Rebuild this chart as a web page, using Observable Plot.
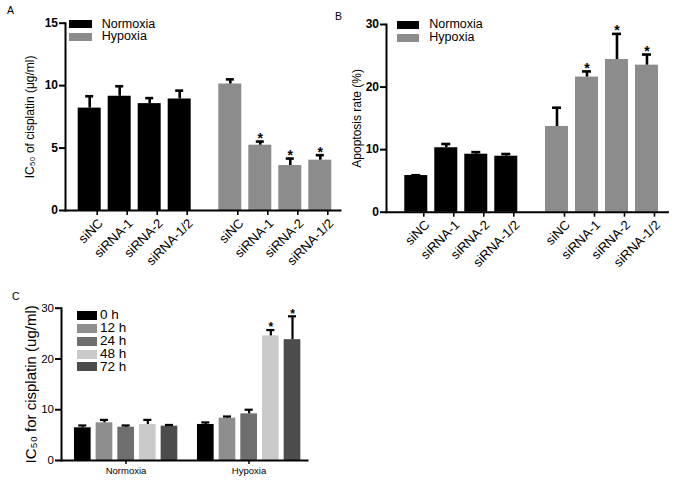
<!DOCTYPE html>
<html><head><meta charset="utf-8">
<script src="https://cdn.jsdelivr.net/npm/d3@7"></script>
<script src="https://cdn.jsdelivr.net/npm/@observablehq/plot@0.6"></script>
<style>
body{margin:0;background:#fff;font-family:"Liberation Sans",Arial,sans-serif;}
#wrap{position:relative;width:677px;height:484px;overflow:hidden;background:#fff;}
.panel{position:absolute;}
.panel svg{overflow:visible;}
.letter{position:absolute;font-size:10.5px;line-height:10.5px;color:#000;}
.legend{position:absolute;color:#000;}
.legend .row{display:flex;align-items:center;white-space:nowrap;overflow:visible;}
.legend .txt{display:inline-block;overflow:visible;}
.legend .sw{display:inline-block;flex:none;}
</style></head><body><div id="wrap"></div>
<script>
// ---------- data ----------
const conditions = ["Normoxia", "Hypoxia"];
const siRNAs = ["siNC", "siRNA-1", "siRNA-2", "siRNA-1/2"];

// Panel A: IC50 of cisplatin (µg/ml)
const ic50Normoxia    = [8.2, 9.15, 8.56, 8.93];
const ic50NormoxiaErr = [0.95, 0.8, 0.44, 0.67];
const ic50Hypoxia     = [10.13, 5.23, 3.6, 4.03];
const ic50HypoxiaErr  = [0.37, 0.29, 0.56, 0.4];
const ic50NormoxiaSig = [false, false, false, false];
const ic50HypoxiaSig  = [false, true, true, true];

// Panel B: apoptosis rate (%)
const apoNormoxia    = [5.86, 10.3, 9.27, 8.95];
const apoNormoxiaErr = [0.05, 0.6, 0.33, 0.35];
const apoHypoxia     = [13.7, 21.6, 24.4, 23.5];
const apoHypoxiaErr  = [3.0, 0.9, 4.1, 1.7];
const apoNormoxiaSig = [false, false, false, false];
const apoHypoxiaSig  = [false, true, true, true];

// Panel C: IC50 for cisplatin over time
const times = ["0 h", "12 h", "24 h", "48 h", "72 h"];
const timeNormoxia    = [6.44, 7.42, 6.56, 7.1, 6.76];
const timeNormoxiaErr = [0.46, 0.58, 0.34, 0.9, 0.24];
const timeHypoxia     = [7.1, 8.34, 9.19, 24.55, 23.8];
const timeHypoxiaErr  = [0.4, 0.33, 0.81, 1.15, 4.6];
const timeNormoxiaSig = [false, false, false, false, false];
const timeHypoxiaSig  = [false, false, false, true, true];

const ticksA = [0, 5, 10, 15];
const ticksB = [0, 10, 20, 30];
const ticksC = [0, 10, 20, 30];

const conditionColors = ["#000000", "#8c8c8c"];
const timeColors = ["#000000", "#8e8e8e", "#6e6e6e", "#cacaca", "#4c4c4c"];

// ---------- helpers ----------
function build(cats, values, errs, sigs) {
  const rows = [];
  conditions.forEach((g, gi) => {
    cats.forEach((c, ci) => {
      rows.push({group: g, cat: c, value: values[gi][ci], top: values[gi][ci] + errs[gi][ci], sig: sigs[gi][ci]});
    });
  });
  return rows;
}
const FONT = '"Liberation Sans", Arial, sans-serif';
const wrap = document.getElementById("wrap");
function place(node, left, top) {
  const d = document.createElement("div");
  d.className = "panel";
  d.style.left = left + "px";
  d.style.top = top + "px";
  d.appendChild(node);
  wrap.appendChild(d);
}
function letter(t, left, top) {
  const d = document.createElement("div");
  d.className = "letter"; d.textContent = t;
  d.style.left = left + "px"; d.style.top = top + "px";
  wrap.appendChild(d);
}
function legend(items, colors, o) {
  const d = document.createElement("div");
  d.className = "legend";
  d.style.left = o.left + "px"; d.style.top = o.top + "px";
  d.style.fontSize = o.fontSize + "px";
  items.forEach((it, i) => {
    const r = document.createElement("div");
    r.className = "row"; r.style.height = o.rowH + "px";
    const s = document.createElement("span");
    s.className = "sw";
    s.style.width = o.swW + "px"; s.style.height = o.swH + "px";
    s.style.background = colors[i]; s.style.marginRight = o.gap + "px";
    const t = document.createElement("span");
    t.className = "txt";
    t.style.height = o.rowH + "px"; t.style.lineHeight = o.rowH + "px";
    t.textContent = it;
    r.appendChild(s); r.appendChild(t);
    d.appendChild(r);
  });
  wrap.appendChild(d);
}

function barPanel(rows, o) {
  const sigRows = rows.filter(d => d.sig);
  return Plot.plot({
    width: o.width, height: o.height,
    marginLeft: o.ml, marginRight: o.mr, marginTop: o.mt, marginBottom: o.mb,
    style: {background: "transparent", overflow: "visible", fontFamily: FONT, color: "#000"},
    fx: {domain: conditions, paddingInner: o.fxPi, paddingOuter: o.fxPo, align: 0, round: false, axis: null, label: null},
    x: {domain: o.xDomain, paddingInner: o.xPi, paddingOuter: o.xPo, align: o.xAlign, round: false, axis: null, label: null},
    y: {domain: o.yDomain, axis: null, label: null},
    color: {domain: o.colorDomain, range: o.colors},
    marks: [
      Plot.barY(rows, {fx: "group", x: "cat", y: "value", fill: o.fillKey}),
      Plot.ruleX(rows, {fx: "group", x: "cat", y1: "value", y2: "top", stroke: "#000", strokeWidth: o.errW}),
      Plot.tickY(rows, {fx: "group", x: "cat", y: "top", stroke: "#000", strokeWidth: o.errW, insetLeft: o.capInset, insetRight: o.capInset}),
      Plot.text(sigRows, {fx: "group", x: "cat", y: "top", text: () => "*", fontSize: o.starSize, fontWeight: "bold", lineAnchor: "middle", dy: o.starDy}),
      ...o.xAxisMarks,
      Plot.axisY({ticks: o.yTicks, tickSize: 6, tickPadding: 1.5, fontSize: o.yFont, fontWeight: o.yWeight, strokeWidth: 2, label: null}),
      Plot.axisY({ticks: [], tickSize: 0, label: o.yLabel, labelAnchor: "center", labelOffset: o.labelOffset, labelArrow: "none", fontSize: o.labelFont, dy: o.labelDy}),
      Plot.frame({anchor: "left", facet: "super", stroke: "#000", strokeWidth: 2}),
      Plot.frame({anchor: "bottom", facet: "super", stroke: "#000", strokeWidth: 2})
    ]
  });
}

// ---------- Panel A ----------
const rowsA = build(siRNAs, [ic50Normoxia, ic50Hypoxia], [ic50NormoxiaErr, ic50HypoxiaErr], [ic50NormoxiaSig, ic50HypoxiaSig]);
const plotA = barPanel(rowsA, {
  width: 342, height: 290, ml: 65, mr: 2, mt: 22.7, mb: 80,
  fxPi: 0.0441, fxPo: 0, xDomain: siRNAs, xPi: 0.2333, xPo: 0.3567, xAlign: 0.593,
  yDomain: [0, 15], yTicks: ticksA, colorDomain: conditions, colors: conditionColors, fillKey: "group",
  errW: 2.6, capInset: 7.5, starSize: 14, starDy: -3,
  xAxisMarks: [Plot.axisX({tickRotate: -45, textAnchor: "end", lineAnchor: "top", tickSize: 5, tickPadding: 2, dx: 7.5, fontSize: 13, strokeWidth: 1.6, label: null})],
  yFont: 12, yWeight: "bold", yLabel: "IC₅₀ of cisplatin (μg/ml)", labelOffset: 40, labelFont: 12, labelDy: 2
});
place(plotA, 0, 0);

// ---------- Panel B ----------
const rowsB = build(siRNAs, [apoNormoxia, apoHypoxia], [apoNormoxiaErr, apoHypoxiaErr], [apoNormoxiaSig, apoHypoxiaSig]);
const plotB = barPanel(rowsB, {
  width: 337, height: 290, ml: 46, mr: 4, mt: 24, mb: 78.3,
  fxPi: 0, fxPo: 0.0199, xDomain: siRNAs, xPi: 0.2333, xPo: 0.4617, xAlign: 0.66,
  yDomain: [0, 30], yTicks: ticksB, colorDomain: conditions, colors: conditionColors, fillKey: "group",
  errW: 2.6, capInset: 7, starSize: 14, starDy: -3,
  xAxisMarks: [Plot.axisX({tickRotate: -45, textAnchor: "end", lineAnchor: "top", tickSize: 5, tickPadding: 2, dx: 7.5, fontSize: 13, strokeWidth: 1.6, label: null})],
  yFont: 12, yWeight: "bold", yLabel: "Apoptosis rate (%)", labelOffset: 34, labelFont: 12, labelDy: 0
});
place(plotB, 340, 0);

// ---------- Panel C ----------
const rowsC = build(times, [timeNormoxia, timeHypoxia], [timeNormoxiaErr, timeHypoxiaErr], [timeNormoxiaSig, timeHypoxiaSig]);
const plotC = barPanel(rowsC, {
  width: 340, height: 194, ml: 61, mr: 29.3, mt: 17.7, mb: 24,
  fxPi: 0, fxPo: 0.015, xDomain: times, xPi: 0.2308, xPo: 0.4535, xAlign: 0.66,
  yDomain: [0, 30], yTicks: ticksC, colorDomain: times, colors: timeColors, fillKey: "cat",
  errW: 2.2, capInset: 4.3, starSize: 12, starDy: -2.5,
  xAxisMarks: [Plot.axisFx({anchor: "bottom", tickSize: 4, tickPadding: 3, fontSize: 9.5, strokeWidth: 1.5, label: null, dx: 3})],
  yFont: 11.5, yWeight: "normal", yLabel: "IC₅₀ for cisplatin (ug/ml)", labelOffset: 36, labelFont: 15, labelDy: 0
});
place(plotC, 0, 290);

// ---------- legends & letters ----------
legend(conditions, conditionColors, {left: 69.3, top: 17.8, rowH: 12.5, swW: 23, swH: 8, gap: 9.4, fontSize: 12.5});
legend(conditions, conditionColors, {left: 396.7, top: 18, rowH: 13.3, swW: 22.6, swH: 8, gap: 10, fontSize: 12.5});
legend(times, timeColors, {left: 76.7, top: 309.4, rowH: 12.8, swW: 20, swH: 9, gap: 3.3, fontSize: 13.5});
letter("A", 7, 5);
letter("B", 335, 11);
letter("C", 12, 291);
</script></body></html>
